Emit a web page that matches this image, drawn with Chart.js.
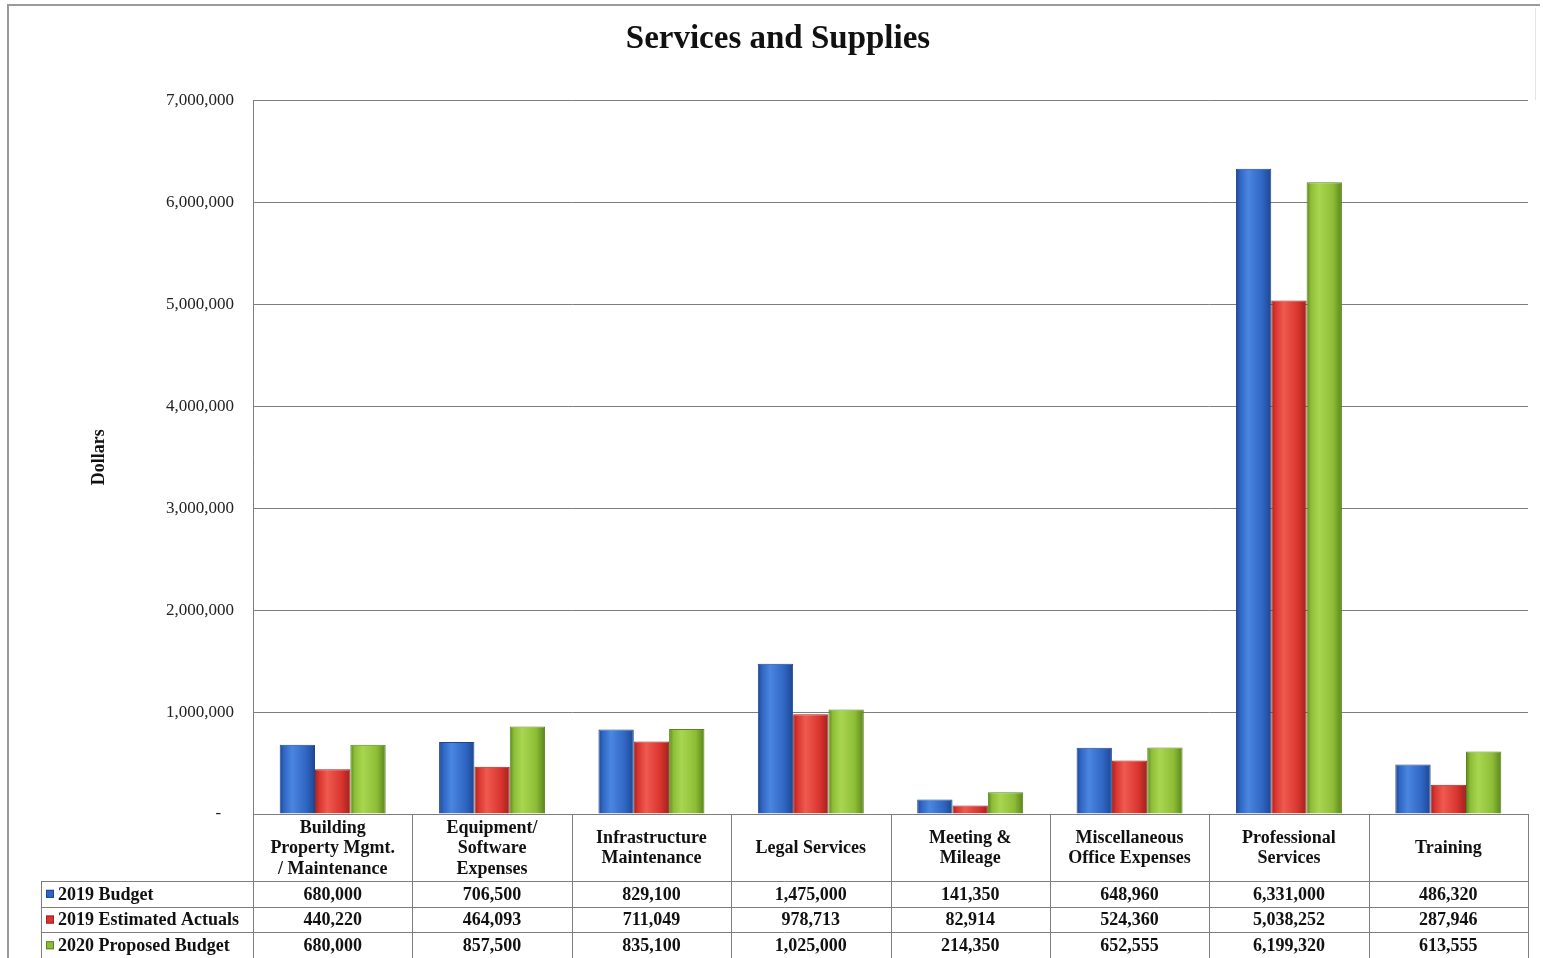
<!DOCTYPE html>
<html>
<head>
<meta charset="utf-8">
<title>Services and Supplies</title>
<script src="https://cdn.jsdelivr.net/npm/chart.js@4.4.0/dist/chart.umd.min.js"></script>
<style>
   html, body { margin: 0; padding: 0; background: #fff; }
   canvas { display: block; }
</style>
</head>
<body>
<canvas id="supplies-chart" width="1543" height="958"></canvas>
<script>
// categories (multi-line labels, as in the data table header)
const categories = [
   ['Building', 'Property Mgmt.', '/ Maintenance'],
   ['Equipment/', 'Software', 'Expenses'],
   ['Infrastructure', 'Maintenance'],
   ['Legal Services'],
   ['Meeting &', 'Mileage'],
   ['Miscellaneous', 'Office Expenses'],
   ['Professional', 'Services'],
   ['Training']
];

const seriesNames = ['2019 Budget', '2019 Estimated Actuals', '2020 Proposed Budget'];

const budget2019 = [680000, 706500, 829100, 1475000, 141350, 648960, 6331000, 486320];
const actuals2019 = [440220, 464093, 711049, 978713, 82914, 524360, 5038252, 287946];
const proposed2020 = [680000, 857500, 835100, 1025000, 214350, 652555, 6199320, 613555];

const yMax = 7000000;
const yStep = 1000000;

const seriesColors = ['#2f66c3', '#d9352e', '#8dbd36'];
const seriesLight = ['#4a86e0', '#ef5a50', '#a9d650'];
const seriesBorders = ['#1d4690', '#a0221d', '#5a851c'];

const serif = "'Liberation Serif', 'Times New Roman', serif";
const lineColor = '#7e7e7e';
const catPct = 0.665;

const fmt = (v) => v.toLocaleString('en-US');

// horizontal shading across each bar (darker edges, lighter left third)
function barFill(context) {
   const chart = context.chart;
   const xs = chart.scales.x;
   const i = context.datasetIndex;
   if (!xs || context.dataIndex == null) return seriesColors[i];
   const colW = (xs.right - xs.left) / categories.length;
   const barW = colW * catPct / 3;
   const left = xs.getPixelForValue(context.dataIndex) - 1.5 * barW + i * barW;
   if (!isFinite(left)) return seriesColors[i];
   const g = chart.ctx.createLinearGradient(left, 0, left + barW, 0);
   g.addColorStop(0, seriesBorders[i]);
   g.addColorStop(0.12, seriesColors[i]);
   g.addColorStop(0.35, seriesLight[i]);
   g.addColorStop(0.75, seriesColors[i]);
   g.addColorStop(1, seriesBorders[i]);
   return g;
}

// white page + thin frame round the chart
const framePlugin = {
   id: 'frame',
   beforeDraw(chart) {
      const ctx = chart.ctx;
      ctx.save();
      ctx.fillStyle = '#fff';
      ctx.fillRect(0, 0, chart.width, chart.height);
      ctx.strokeStyle = '#9a9a9a';
      ctx.lineWidth = 2;
      ctx.beginPath();
      ctx.moveTo(8, chart.height);
      ctx.lineTo(8, 5);
      ctx.lineTo(1540, 5);
      ctx.stroke();
      ctx.strokeStyle = '#e4e4e4';
      ctx.lineWidth = 1;
      ctx.beginPath();
      ctx.moveTo(1535.5, 8);
      ctx.lineTo(1535.5, 100);
      ctx.stroke();
      ctx.restore();
   }
};

// data table under the x axis: category headers + one row per series
const dataTablePlugin = {
   id: 'dataTable',
   afterDraw(chart) {
      const ctx = chart.ctx;
      const xs = chart.scales.x;
      const area = chart.chartArea;
      const n = categories.length;
      const colW = (xs.right - xs.left) / n;
      const headerH = 67;
      const rowH = 25.7;
      const legendLeft = 41;
      const top = area.bottom;
      const rowsTop = top + headerH;
      const rows = [budget2019, actuals2019, proposed2020];

      ctx.save();
      ctx.strokeStyle = lineColor;
      ctx.lineWidth = 1;

      // vertical column lines
      ctx.beginPath();
      for (let i = 0; i <= n; i++) {
         const x = Math.round(xs.left + i * colW) + 0.5;
         ctx.moveTo(x, top);
         ctx.lineTo(x, chart.height);
      }
      ctx.moveTo(legendLeft + 0.5, rowsTop);
      ctx.lineTo(legendLeft + 0.5, chart.height);
      // horizontal row lines
      for (let r = 0; r <= rows.length; r++) {
         const y = Math.round(rowsTop + r * rowH) + 0.5;
         ctx.moveTo(legendLeft, y);
         ctx.lineTo(xs.right, y);
      }
      ctx.stroke();

      ctx.fillStyle = '#111';
      ctx.textAlign = 'center';
      ctx.textBaseline = 'middle';
      ctx.font = 'bold 18px ' + serif;

      // header labels
      const lh = 20.5;
      categories.forEach((lines, i) => {
         const cx = xs.getPixelForValue(i);
         const cy = top + headerH / 2 + 1;
         lines.forEach((line, k) => {
            ctx.fillText(line, cx, cy + (k - (lines.length - 1) / 2) * lh);
         });
      });

      // series rows
      rows.forEach((values, r) => {
         const cy = rowsTop + r * rowH + rowH / 2 + 1;
         ctx.fillStyle = seriesColors[r];
         ctx.fillRect(legendLeft + 5, cy - 5, 8, 8);
         ctx.strokeStyle = seriesBorders[r];
         ctx.strokeRect(legendLeft + 5.5, cy - 4.5, 7, 7);
         ctx.fillStyle = '#111';
         ctx.textAlign = 'left';
         ctx.fillText(seriesNames[r], legendLeft + 17, cy);
         ctx.textAlign = 'center';
         values.forEach((v, i) => {
            ctx.fillText(fmt(v), xs.getPixelForValue(i), cy);
         });
      });
      ctx.restore();
   }
};

const ctx = document.getElementById('supplies-chart');

new Chart(ctx, {
   type: 'bar',
   data: {
      labels: categories,
      datasets: [budget2019, actuals2019, proposed2020].map((values, i) => ({
         label: seriesNames[i],
         data: values,
         backgroundColor: barFill,
         borderColor: seriesBorders[i],
         borderWidth: 1,
         categoryPercentage: catPct,
         barPercentage: 1
      }))
   },
   options: {
      responsive: false,
      animation: false,
      layout: {
         padding: { left: 28, right: 15, top: 0, bottom: 0 }
      },
      scales: {
         x: {
            grid: { display: false, drawTicks: false },
            border: { display: true, color: lineColor, width: 1 },
            ticks: { display: false },
            afterFit: (scale) => { scale.height = 144; }
         },
         y: {
            min: 0,
            max: yMax,
            grid: { color: lineColor, lineWidth: 1, drawTicks: false },
            border: { display: true, color: lineColor, width: 1 },
            ticks: {
               stepSize: yStep,
               padding: 19,
               color: '#222',
               font: { family: serif, size: 17 },
               callback: (v) => (v === 0 ? '-   ' : fmt(v))
            },
            title: {
               display: true,
               text: 'Dollars',
               color: '#111',
               font: { family: serif, size: 18, weight: 'bold' },
               padding: { top: 61, bottom: 0 }
            },
            afterFit: (scale) => { scale.width = 225; }
         }
      },
      plugins: {
         legend: { display: false },
         tooltip: { enabled: false },
         title: {
            display: true,
            text: 'Services and Supplies',
            color: '#111',
            font: { family: serif, size: 33, weight: 'bold' },
            padding: { top: 20, bottom: 41 }
         }
      }
   },
   plugins: [framePlugin, dataTablePlugin]
});
</script>
</body>
</html>
